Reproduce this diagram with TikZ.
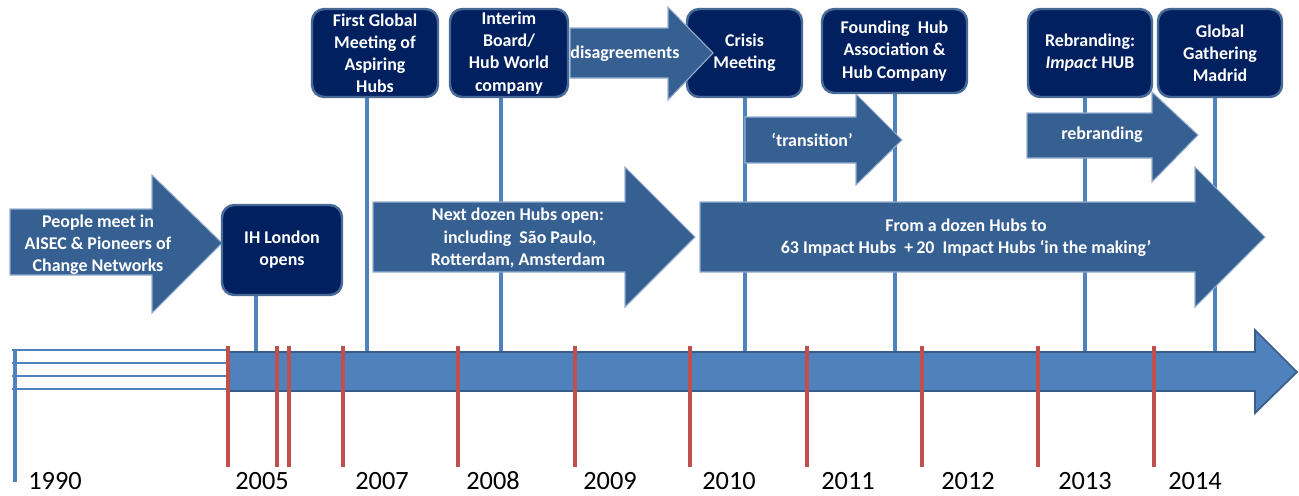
\documentclass[tikz,border=0pt]{standalone}
\usepackage{fontspec}
\setmainfont{Carlito}
\definecolor{arrowblue}{RGB}{55,96,146}
\definecolor{arrowedge}{RGB}{150,175,208}
\definecolor{boxnavy}{RGB}{0,32,96}
\definecolor{boxborder}{RGB}{70,105,150}
\definecolor{barfill}{RGB}{79,129,189}
\definecolor{barborder}{RGB}{56,93,138}
\definecolor{linkblue}{RGB}{79,129,189}
\definecolor{tickred}{RGB}{192,80,77}
\pgfdeclarelayer{back}
\pgfsetlayers{back,main}
\tikzset{
  evbox/.style={rounded corners=7pt, fill=boxnavy, draw=boxborder, line width=1.4pt,
    text=white, font=\bfseries\fontsize{10.2}{12.6}\selectfont, align=center, inner sep=0pt},
  flow/.style={fill=arrowblue, draw=arrowedge, line width=0.6pt, line join=miter},
  flowtext/.style={text=white, font=\bfseries\fontsize{10.2}{12.6}\selectfont, align=center, inner sep=0pt},
  link/.style={draw=linkblue, line width=1.8pt},
  yeartick/.style={draw=tickred, line width=1.9pt},
  early/.style={draw=linkblue, line width=0.7pt},
  yearlabel/.style={font=\fontsize{15}{18}\selectfont, anchor=base, inner sep=0pt},
}
\begin{document}
\begin{tikzpicture}[x=0.02cm, y=-0.02cm]
\useasboundingbox (0,0) rectangle (1299,495);

% time axis
\coordinate (bartop) at (0,352);
\path[fill=barfill, draw=barborder, line width=1pt, line join=miter]
  (228,352) -- (1255,352) -- (1255,330) -- (1297,372) -- (1255,413) -- (1255,391) -- (228,391) -- cycle;

% the years before 2005
\foreach \yy in {350,363,376,389} \draw[early] (12,\yy) -- (228,\yy);
\draw[link] (15,350) -- (15,482);

% year ticks
\foreach \xx in {228,277,289,343,458,575,690,807,922,1038,1154}
  \draw[yeartick] (\xx,346) -- (\xx,467);

% year labels
\node[yearlabel] (y1990) at (55,489) {1990};
\node[yearlabel] (y2005) at (262,489) {2005};
\node[yearlabel] (y2007) at (382,489) {2007};
\node[yearlabel] (y2008) at (493,489) {2008};
\node[yearlabel] (y2009) at (610,489) {2009};
\node[yearlabel] (y2010) at (729,489) {2010};
\node[yearlabel] (y2011) at (848,489) {2011};
\node[yearlabel] (y2012) at (968,489) {2012};
\node[yearlabel] (y2013) at (1085,489) {2013};
\node[yearlabel] (y2014) at (1195,489) {2014};

% phase arrows
\path[flow] (10,209) -- (152,209) -- (152,175) -- (222,243) -- (152,313) -- (152,275) -- (10,275) -- cycle;
\node[flowtext] (tpeople) at (98,245) {People meet in\\AISEC \& Pioneers of\\Change Networks};

\path[flow] (373,202) -- (625,202) -- (625,167) -- (695,237) -- (625,307) -- (625,272) -- (373,272) -- cycle;
\node[flowtext] (tnext) at (518,238) {Next dozen Hubs open:\\\ including\ \ São Paulo,\\Rotterdam, Amsterdam};

\path[flow] (700,202) -- (1195,202) -- (1195,167) -- (1265,237) -- (1195,307) -- (1195,272) -- (700,272) -- cycle;
\node[flowtext] (tdozen) at (966,238) {From a dozen Hubs to\\63 Impact Hubs\ \ +\,20\ \ Impact Hubs ‘in the making’};

\path[flow] (745,117) -- (856,117) -- (856,94) -- (902,140) -- (856,185) -- (856,163) -- (745,163) -- cycle;
\node[flowtext] (ttrans) at (812,140) {‘transition’};

% event boxes
\node[evbox, minimum width=120*0.02cm, minimum height=90*0.02cm] (ih) at (282,250) {IH London\\opens};
\node[evbox, minimum width=126*0.02cm, minimum height=88*0.02cm] (firstglobal) at (375,53) {First Global\\Meeting of\\Aspiring\\Hubs};
\node[evbox, minimum width=118*0.02cm, minimum height=88*0.02cm] (interim) at (509,53) {Interim\\Board/\\Hub World\\company};
\node[evbox, minimum width=115*0.02cm, minimum height=88*0.02cm] (crisis) at (744.5,53) {Crisis\\Meeting};
\node[evbox, minimum width=145*0.02cm, minimum height=84*0.02cm] (founding) at (894.5,51) {Founding\ \ Hub\\Association \&\\Hub Company};
\node[evbox, minimum width=124*0.02cm, minimum height=88*0.02cm] (rebrand) at (1090,53) {Rebranding:\\\textit{Impact} HUB};
\node[evbox, minimum width=124*0.02cm, minimum height=88*0.02cm] (madrid) at (1220,53) {Global\\Gathering\\Madrid};

% arrows running between boxes
\path[flow] (570,28) -- (668,28) -- (668,7) -- (713,53) -- (668,100) -- (668,78) -- (570,78) -- cycle;
\node[flowtext] (tdis) at (625,54) {disagreements};

\path[flow] (1027,113) -- (1152,113) -- (1152,92) -- (1198,135) -- (1152,182) -- (1152,158) -- (1027,158) -- cycle;
\node[flowtext] (trebrand) at (1102,135) {rebranding};

% connectors from events down to the axis
\begin{pgfonlayer}{back}
\draw[link] (ih.south -| 256,0) -- (256,0 |- bartop);
\draw[link] (firstglobal.south -| 367,0) -- (367,0 |- bartop);
\draw[link] (interim.south -| 501,0) -- (501,0 |- bartop);
\draw[link] (crisis.south -| 745,0) -- (745,0 |- bartop);
\draw[link] (founding.south -| 895,0) -- (895,0 |- bartop);
\draw[link] (rebrand.south -| 1085,0) -- (1085,0 |- bartop);
\draw[link] (madrid.south -| 1215,0) -- (1215,0 |- bartop);
\end{pgfonlayer}
\end{tikzpicture}
\end{document}
